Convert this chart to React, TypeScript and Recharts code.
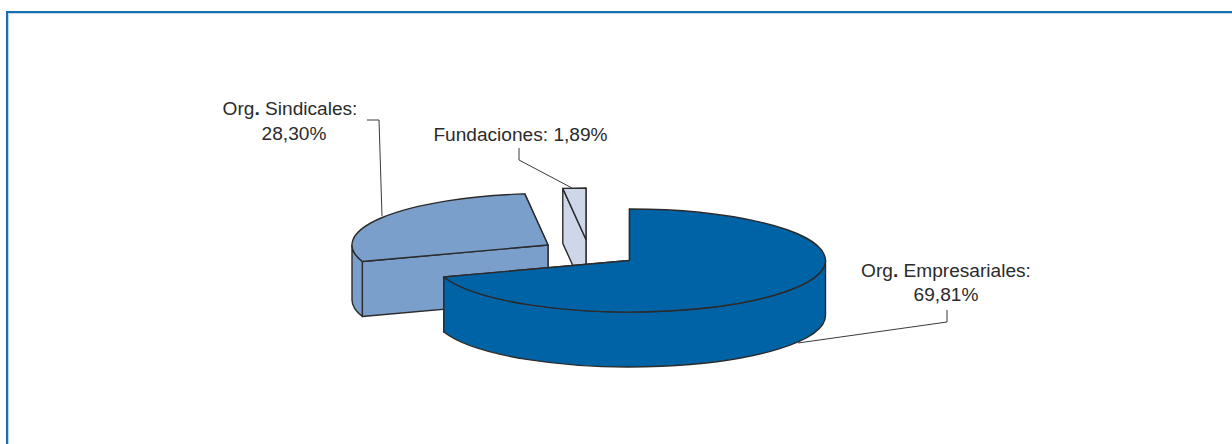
import React from 'react';
import { PieChart, Pie } from 'recharts';

const names = ['Fundaciones', 'Org. Sindicales', 'Org. Empresariales'];
const shares = [1.89, 28.3, 69.81];
const percentLabels = ['1,89%', '28,30%', '69,81%'];
const colors = ['#cdd7e9', '#7a9fca', '#0063a6'];

const RADIUS = 196;
const TILT = 51.5 / 196;
const DEPTH = 55;
const OUTLINE = '#2b2b2b';
const LABEL_FONT = { fontFamily: 'Liberation Sans', fontSize: 19.1, fill: '#2b2b2b', textAnchor: 'middle' as const };

// how far each wedge is pulled out of the pie
const explode: Record<string, [number, number]> = {
  Fundaciones: [-43, -21],
  'Org. Sindicales': [-81, -15.5],
  'Org. Empresariales': [0.5, 0],
};

// label text anchors and leader lines, in page pixels
const labelLayout: Record<string, { x: number; y: number[]; dx: number; leader: string }> = {
  Fundaciones: { x: 520.5, y: [141], dx: 0, leader: '519,148 519,160 572,188' },
  'Org. Sindicales': { x: 290, y: [115, 140], dx: 4, leader: '367,120 379,120 382,216' },
  'Org. Empresariales': { x: 946, y: [277, 301], dx: 0, leader: '947,310 947,322 798,343' },
};

const data = names.map((name, i) => ({ name, value: shares[i], percent: percentLabels[i], fill: colors[i] }));

const Wedge = (props: any) => {
  const { cx, cy, outerRadius, startAngle, endAngle, fill, name } = props;
  const [ox, oy] = explode[name];
  const rx = outerRadius;
  const ry = outerRadius * TILT;
  const x0 = cx + ox;
  const y0 = cy + oy;
  const px = (deg: number) => x0 + rx * Math.cos((deg * Math.PI) / 180);
  const py = (deg: number) => y0 - ry * Math.sin((deg * Math.PI) / 180);
  const arc = (from: number, to: number, dy = 0) => {
    const large = Math.abs(to - from) > 180 ? 1 : 0;
    const sweep = to > from ? 0 : 1;
    return `A${rx} ${ry} 0 ${large} ${sweep} ${px(to)} ${py(to) + dy}`;
  };
  const radial = (deg: number) =>
    `M${x0} ${y0}L${px(deg)} ${py(deg)}L${px(deg)} ${py(deg) + DEPTH}L${x0} ${y0 + DEPTH}Z`;

  // only the part of the rim that faces the viewer gets a wall
  const wallFrom = Math.max(startAngle, 180);
  const wallTo = Math.min(endAngle, 360);
  const wall =
    wallTo > wallFrom
      ? `M${px(wallFrom)} ${py(wallFrom)}${arc(wallFrom, wallTo)}L${px(wallTo)} ${py(wallTo) + DEPTH}${arc(wallTo, wallFrom, DEPTH)}Z`
      : null;

  const shared = { fill, stroke: OUTLINE, strokeWidth: 1.4, strokeLinejoin: 'round' as const };
  return (
    <g>
      <path d={radial(startAngle)} {...shared} />
      <path d={radial(endAngle)} {...shared} />
      {wall && <path d={wall} {...shared} />}
      <path d={`M${x0} ${y0}L${px(startAngle)} ${py(startAngle)}${arc(startAngle, endAngle)}Z`} {...shared} />
    </g>
  );
};

// the source prints the dot of "Org." heavier than the rest
const nameParts = (name: string) => {
  const [head, ...rest] = name.split('.');
  if (rest.length === 0) return name;
  return (
    <>
      {head}
      <tspan fontWeight="bold">.</tspan>
      {rest.join('.')}
    </>
  );
};

const SliceLabel = (props: any) => {
  const { name, payload } = props;
  const l = labelLayout[name];
  const twoLines = l.y.length === 2;
  return (
    <g>
      <polyline points={l.leader} fill="none" stroke="#3a3a3a" strokeWidth={1} />
      {twoLines ? (
        <text {...LABEL_FONT}>
          <tspan x={l.x} y={l.y[0]}>{nameParts(name)}:</tspan>
          <tspan x={l.x + l.dx} y={l.y[1]}>{payload.percent}</tspan>
        </text>
      ) : (
        <text x={l.x} y={l.y[0]} {...LABEL_FONT}>
          {name}: {payload.percent}
        </text>
      )}
    </g>
  );
};

export default function App() {
  return (
    <div style={{ position: 'absolute', left: 0, top: 0, width: 1232, height: 444, background: '#fff', overflow: 'hidden' }}>
      <div
        style={{
          position: 'absolute',
          left: 6,
          top: 11,
          width: 1232,
          height: 444,
          borderLeft: '2px solid #1570b5',
          borderTop: '2px solid #1570b5',
          boxShadow: 'inset 1px 1px 0 #c3d5e6',
        }}
      />
      <div style={{ position: 'absolute', left: 0, top: 0 }}>
        <PieChart width={1232} height={444} margin={{ top: 0, right: 0, bottom: 0, left: 0 }}>
          <Pie
            data={data}
            dataKey="value"
            nameKey="name"
            cx={629}
            cy={260.5}
            innerRadius={0}
            outerRadius={RADIUS}
            startAngle={90}
            endAngle={450}
            stroke="none"
            shape={Wedge}
            label={SliceLabel}
            labelLine={false}
            isAnimationActive={false}
          />
        </PieChart>
      </div>
    </div>
  );
}
